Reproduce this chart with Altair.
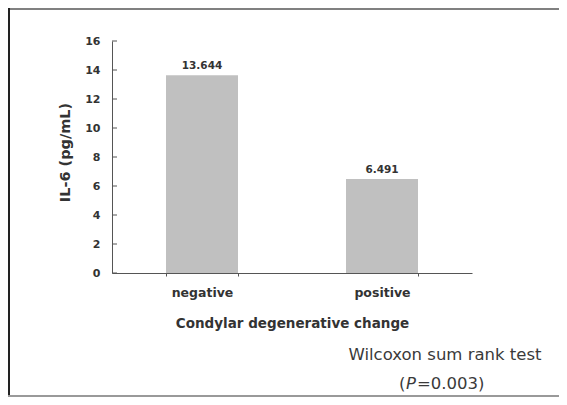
import altair as alt
import pandas as pd

categories = ["negative", "positive"]
values = [13.644, 6.491]
value_labels = ["13.644", "6.491"]
y_ticks = [0, 2, 4, 6, 8, 10, 12, 14, 16]

df = pd.DataFrame({"cat": categories, "val": values, "lab": value_labels})
tick_df = pd.DataFrame({"v": y_ticks})

FONT = "DejaVu Sans"
TXT = "#333333"
NOTE = "#3a3a3a"

xscale = alt.Scale(domain=categories, paddingInner=0.6, paddingOuter=0.3)
yscale = alt.Scale(domain=[0, 16], nice=False)

xaxis = alt.Axis(title="Condylar degenerative change", labelAngle=0,
                 tickBand="extent", tickSize=3, labelPadding=10,
                 labelFontSize=12.5, labelFont=FONT, labelFontWeight="bold",
                 labelColor=TXT, titleFont=FONT, titleFontSize=13.5,
                 titleFontWeight="bold", titleColor=TXT,
                 titleX=180, titleY=50, titleBaseline="middle",
                 domainColor="#555555", tickColor="#555555")
yaxis = alt.Axis(title="IL-6 (pg/mL)", values=y_ticks, ticks=False,
                 labelOverlap=False,
                 labelPadding=12, labelFont=FONT, labelFontSize=11,
                 labelFontWeight="bold", labelColor=TXT,
                 titleFont=FONT, titleFontSize=14.5, titleFontWeight="bold",
                 titleColor=TXT, titleAngle=-90, titleX=-47, titleY=111,
                 titleBaseline="middle", titleAlign="center",
                 domainColor="#555555", grid=False)

bars = alt.Chart(df).mark_bar(color="#c0c0c0").encode(
    x=alt.X("cat:N", scale=xscale, sort=categories, axis=xaxis),
    y=alt.Y("val:Q", scale=yscale, axis=yaxis),
)

labels = alt.Chart(df).mark_text(dy=-9, font=FONT, fontSize=10.5, fontWeight="bold",
                                 color=TXT).encode(
    x=alt.X("cat:N", scale=xscale, sort=categories, axis=xaxis),
    y=alt.Y("val:Q", scale=yscale, axis=yaxis),
    text="lab:N",
)

inner_ticks = alt.Chart(tick_df).mark_rule(color="#555555", strokeWidth=1).encode(
    y=alt.Y("v:Q", scale=yscale, axis=yaxis),
    x=alt.value(0),
    x2=alt.value(5),
)

one = alt.Data(values=[{"a": 1}])
border_top = alt.Chart(one).mark_rule(color="#808080", strokeWidth=2).encode(
    x=alt.value(-104), x2=alt.value(447), y=alt.value(-32))
border_left = alt.Chart(one).mark_rule(color="#222222", strokeWidth=2).encode(
    x=alt.value(-103), y=alt.value(-33), y2=alt.value(356))
border_bottom = alt.Chart(one).mark_rule(color="#999999", strokeWidth=2).encode(
    x=alt.value(-104), x2=alt.value(447), y=alt.value(355))

wil = alt.Chart(one).mark_text(font=FONT, fontSize=16.5,
                               color=NOTE, baseline="middle",
                               align="center").encode(
    x=alt.value(333), y=alt.value(314), text=alt.value("Wilcoxon sum rank test"))
p1 = alt.Chart(one).mark_text(font=FONT, fontSize=16.5,
                              color=NOTE, baseline="middle",
                              align="left").encode(
    x=alt.value(287), y=alt.value(343), text=alt.value("("))
p2 = alt.Chart(one).mark_text(font=FONT, fontSize=16.5,
                              fontStyle="italic", color=NOTE,
                              baseline="middle", align="left").encode(
    x=alt.value(294), y=alt.value(343), text=alt.value("P"))
p3 = alt.Chart(one).mark_text(font=FONT, fontSize=16.5,
                              color=NOTE, baseline="middle",
                              align="left").encode(
    x=alt.value(305), y=alt.value(343), text=alt.value("=0.003)"))

chart = alt.layer(bars, labels, inner_ticks, border_top, border_left, border_bottom,
                  wil, p1, p2, p3).properties(
    width=360, height=232,
    padding={"left": 104, "top": 33, "right": 87, "bottom": 124},
    autosize=alt.AutoSizeParams(type="none"),
    background="white",
).configure_view(stroke=None)

chart.save("out.html", embed_options={"renderer": "svg", "actions": False})
